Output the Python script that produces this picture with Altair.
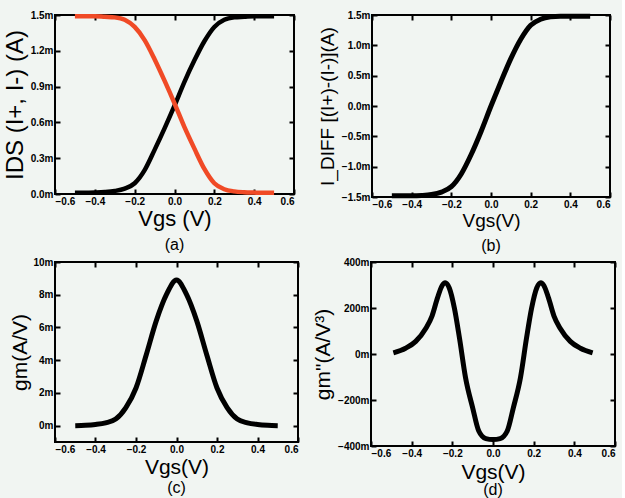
import altair as alt
import pandas as pd

VGS = [-0.50, -0.45, -0.40, -0.35, -0.30, -0.25, -0.20, -0.15, -0.10, -0.05, 0.00,
       0.05, 0.10, 0.15, 0.20, 0.25, 0.30, 0.35, 0.40, 0.45, 0.50]
I_PLUS = [0.010, 0.010, 0.012, 0.016, 0.025, 0.045, 0.09, 0.20, 0.37, 0.55, 0.74,
          0.94, 1.12, 1.28, 1.40, 1.46, 1.48, 1.485, 1.49, 1.49, 1.49]
I_MINUS = [1.49, 1.49, 1.49, 1.485, 1.48, 1.46, 1.40, 1.29, 1.13, 0.95, 0.76,
           0.56, 0.38, 0.21, 0.09, 0.04, 0.022, 0.015, 0.012, 0.010, 0.010]
I_DIFF = [-1.48, -1.48, -1.48, -1.475, -1.46, -1.42, -1.33, -1.12, -0.80, -0.42, 0.00,
          0.40, 0.78, 1.10, 1.33, 1.43, 1.47, 1.48, 1.48, 1.48, 1.48]
GM = [0.00, 0.02, 0.07, 0.17, 0.40, 1.10, 2.30, 4.30, 6.40, 8.00, 8.90,
      8.00, 6.40, 4.30, 2.30, 1.10, 0.40, 0.17, 0.07, 0.02, 0.00]
VGS_D = [-0.49, -0.43, -0.38, -0.33, -0.30, -0.273, -0.25, -0.235, -0.215, -0.19, -0.165,
         -0.135, -0.10, -0.07, -0.035, 0.00, 0.035, 0.07, 0.10, 0.135, 0.165, 0.19,
         0.215, 0.235, 0.25, 0.273, 0.30, 0.33, 0.38, 0.43, 0.49]
GM3 = [5, 25, 55, 112, 165, 244, 298, 310, 287, 200, 70,
       -103, -234, -335, -368, -372, -368, -335, -234, -103, 70, 200,
       287, 310, 298, 244, 165, 112, 55, 25, 5]

X_TICKS = [-0.6, -0.4, -0.2, 0.0, 0.2, 0.4, 0.6]
A_TICKS = [0.0, 0.3, 0.6, 0.9, 1.2, 1.5]
B_TICKS = [-1.5, -1.0, -0.5, 0.0, 0.5, 1.0, 1.5]
C_TICKS = [0, 2, 4, 6, 8, 10]
D_TICKS = [-400, -200, 0, 200, 400]

SERIES = ["I+", "I-", "d", "g", "g3"]
SERIES_COLORS = ["black", "#f04a26", "black", "black", "black"]

BG = "#f1f5f2"
LABEL_FONT = "Liberation Sans"
TITLE_FONT = "Liberation Sans"

df_a = pd.DataFrame({
    "vgs": VGS * 2,
    "val": I_PLUS + I_MINUS,
    "series": ["I+"] * len(VGS) + ["I-"] * len(VGS),
})
df_b = pd.DataFrame({"vgs": VGS, "val": I_DIFF, "series": ["d"] * len(VGS)})
df_c = pd.DataFrame({"vgs": VGS, "val": GM, "series": ["g"] * len(VGS)})
df_d = pd.DataFrame({"vgs": VGS_D, "val": GM3, "series": ["g3"] * len(VGS_D)})

TICK = 5
COLOR_SCALE = alt.Scale(domain=SERIES, range=SERIES_COLORS)


def panel(df, ydom, yticks, yfmt, ytitle, ytitle_size, xtitle, xtitle_size,
          caption, width, height, sw=5, ytitle_pad=4, xtitle_pad=2, cap_off=6):
    xscale = alt.Scale(domain=[-0.6, 0.6], nice=False, zero=False)
    yscale = alt.Scale(domain=ydom, nice=False, zero=False)
    lbl = f"format(datum.value, '{yfmt}') + 'm'"
    base = alt.Chart(df)
    common = dict(domain=False, tickSize=TICK, offset=-TICK, tickColor="black",
                  tickWidth=2, grid=False)
    line = base.mark_line(strokeWidth=sw, interpolate="monotone").encode(
        x=alt.X("vgs:Q", scale=xscale,
                axis=alt.Axis(values=X_TICKS, format=".1f", title=xtitle,
                              titleFontSize=xtitle_size, titleFont=TITLE_FONT,
                              titleFontWeight="normal", titlePadding=xtitle_pad,
                              labelFont=LABEL_FONT, labelFontWeight="bold",
                              labelFontSize=10, labelPadding=2,
                              labelColor="black", titleColor="black", **common)),
        y=alt.Y("val:Q", scale=yscale,
                axis=alt.Axis(values=yticks, labelExpr=lbl, title=ytitle,
                              titleFontSize=ytitle_size, titleFont=TITLE_FONT,
                              titleFontWeight="normal", titlePadding=ytitle_pad,
                              labelFont=LABEL_FONT, labelFontWeight="bold",
                              labelFontSize=10, labelPadding=2,
                              labelColor="black", titleColor="black", **common)),
        color=alt.Color("series:N", scale=COLOR_SCALE, legend=None),
        detail="series:N",
    )
    ghost = base.mark_line(opacity=0).encode(
        x=alt.X("vgs:Q", scale=xscale,
                axis=alt.Axis(values=X_TICKS, orient="top", labels=False, title=None,
                              **common)),
        y=alt.Y("val:Q", scale=yscale,
                axis=alt.Axis(values=yticks, orient="right", labels=False, title=None,
                              **common)),
        detail="series:N",
    )
    return alt.layer(ghost, line).resolve_axis(x="independent", y="independent").properties(
        width=width, height=height,
        title=alt.TitleParams(caption, orient="bottom", fontSize=16, font=TITLE_FONT,
                              fontWeight="normal", color="black", offset=cap_off),
    )


pa = panel(df_a, [0, 1.5], A_TICKS, ".1f", "IDS (I+, I-) (A)", 24, "Vgs (V)", 22,
           "(a)", 239, 179, sw=4.5, ytitle_pad=3, cap_off=8)
pb = panel(df_b, [-1.5, 1.5], B_TICKS, ".1f", "I_DIFF [(I+)-(I-)](A)", 19, "Vgs(V)", 19,
           "(b)", 238, 182, cap_off=8)
pc = panel(df_c, [-1, 10], C_TICKS, ".0f", "gm(A/V)", 21, "Vgs(V)", 21,
           "(c)", 243, 180, ytitle_pad=2, xtitle_pad=2, cap_off=3)
pd_ = panel(df_d, [-400, 400], D_TICKS, ".0f", "gm\"(A/V³)", 21, "Vgs(V)", 21,
            "(d)", 244, 184, xtitle_pad=3, cap_off=0)

chart = alt.vconcat(
    alt.hconcat(pa, pb, spacing=21),
    alt.hconcat(pc, pd_, spacing=11),
    spacing=1,
).properties(
    background=BG,
    padding={"left": 2, "top": 5, "right": 5, "bottom": 4},
).configure_view(
    stroke="black", strokeWidth=2, fill=BG
)

chart.save("out.html", embed_options={"renderer": "svg", "actions": False})
